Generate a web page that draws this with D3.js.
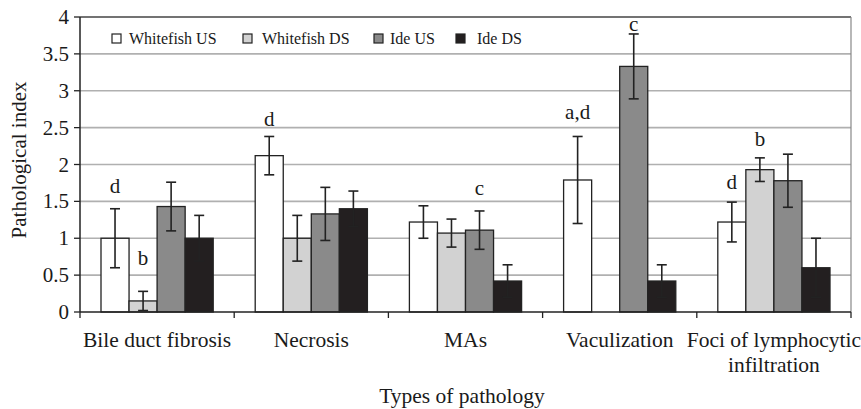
<!DOCTYPE html>
<html><head><meta charset="utf-8">
<script src="https://cdn.jsdelivr.net/npm/d3@7"></script>
<style>body{margin:0;background:#fff}svg{display:block}text{font-family:"Liberation Serif","Times New Roman",serif;fill:#1a1a1a}</style>
</head><body><svg id="c" width="861" height="409"></svg>
<script>
const categories = ["Bile duct fibrosis","Necrosis","MAs","Vaculization","Foci of lymphocytic infiltration"];
const series = ["Whitefish US","Whitefish DS","Ide US","Ide DS"];
const whitefishUS = [1.0, 2.12, 1.22, 1.79, 1.22];
const whitefishDS = [0.15, 1.0, 1.07, 0, 1.93];
const ideUS = [1.43, 1.33, 1.11, 3.33, 1.78];
const ideDS = [1.0, 1.40, 0.42, 0.42, 0.60];
const errWhitefishUS = [0.40, 0.26, 0.22, 0.59, 0.27];
const errWhitefishDS = [0.13, 0.31, 0.19, 0, 0.16];
const errIdeUS = [0.33, 0.36, 0.26, 0.44, 0.36];
const errIdeDS = [0.31, 0.24, 0.22, 0.22, 0.40];
// significance letters: [category index, series index, text, value level of baseline]
const letterCat = [0, 0, 1, 2, 3, 3, 4, 4];
const letterSeries = [0, 1, 0, 2, 0, 2, 0, 1];
const letterText = ["d","b","d","c","a,d","c","d","b"];
const letterLevel = [1.62, 0.64, 2.52, 1.59, 2.62, 3.81, 1.67, 2.25];
const yTicks = [0,0.5,1,1.5,2,2.5,3,3.5,4];
const colors = ["#ffffff","#d2d2d2","#8a8a8a","#231f20"];

const values = [whitefishUS, whitefishDS, ideUS, ideDS];
const errs = [errWhitefishUS, errWhitefishDS, errIdeUS, errIdeDS];

const svg = d3.select("#c");
const L = 80, R = 851, T = 17, B = 312;
const y = d3.scaleLinear().domain([0,4]).range([B,T]);
const x0 = d3.scaleBand().domain(categories).range([L,R]).padding(0);
const x1 = d3.scaleBand().domain(series).range([21, x0.bandwidth()-21]).padding(0);

// gridlines
svg.append("g").selectAll("line").data(yTicks.filter(d=>d>0 && d<4)).join("line")
  .attr("x1",L).attr("x2",R).attr("y1",d=>y(d)).attr("y2",d=>y(d))
  .attr("stroke","#b0b0b0").attr("stroke-width",1.6);
// top & right frame
svg.append("line").attr("x1",L).attr("x2",R).attr("y1",y(4)).attr("y2",y(4)).attr("stroke","#444").attr("stroke-width",1.5);
svg.append("line").attr("x1",R).attr("x2",R).attr("y1",T).attr("y2",B).attr("stroke","#888").attr("stroke-width",1.2);

// bars
const groups = svg.append("g").selectAll("g").data(categories).join("g")
  .attr("transform",c=>`translate(${x0(c)},0)`);
groups.each(function(c,i){
  const g = d3.select(this);
  series.forEach((s,j)=>{
    const v = values[j][i];
    if (v<=0) return;
    g.append("rect").attr("x",x1(s)).attr("width",x1.bandwidth())
      .attr("y",y(v)).attr("height",y(0)-y(v))
      .attr("fill",colors[j]).attr("stroke","#222").attr("stroke-width",1.3);
    const e = errs[j][i];
    if (e>0){
      const cx = x1(s)+x1.bandwidth()/2;
      const eg = g.append("g").attr("stroke","#222").attr("stroke-width",1.6);
      eg.append("line").attr("x1",cx).attr("x2",cx).attr("y1",y(v+e)).attr("y2",y(Math.max(0,v-e)));
      eg.append("line").attr("x1",cx-5).attr("x2",cx+5).attr("y1",y(v+e)).attr("y2",y(v+e));
      if (v-e>0) eg.append("line").attr("x1",cx-5).attr("x2",cx+5).attr("y1",y(v-e)).attr("y2",y(v-e));
    }
  });
});

// letters
letterText.forEach((t,k)=>{
  const c = categories[letterCat[k]], s = series[letterSeries[k]];
  svg.append("text").attr("x",x0(c)+x1(s)+x1.bandwidth()/2).attr("y",y(letterLevel[k]))
    .attr("text-anchor","middle").attr("font-size",21).text(t);
});

// y axis
svg.append("line").attr("x1",L).attr("x2",L).attr("y1",T).attr("y2",B).attr("stroke","#222").attr("stroke-width",1.5);
svg.append("g").selectAll("line").data(yTicks).join("line")
  .attr("x1",L-6).attr("x2",L).attr("y1",d=>y(d)).attr("y2",d=>y(d)).attr("stroke","#222").attr("stroke-width",1.3);
svg.append("g").selectAll("text").data(yTicks).join("text")
  .attr("x",L-11).attr("y",d=>y(d)+7).attr("text-anchor","end").attr("font-size",21).text(d=>d);

// x axis
svg.append("line").attr("x1",L).attr("x2",R).attr("y1",B).attr("y2",B).attr("stroke","#222").attr("stroke-width",1.5);
const bounds = categories.map(c=>x0(c)).concat([R]);
svg.append("g").selectAll("line").data(bounds).join("line")
  .attr("x1",d=>d).attr("x2",d=>d).attr("y1",B).attr("y2",B+6).attr("stroke","#222").attr("stroke-width",1.3);
categories.forEach(c=>{
  const cx = x0(c)+x0.bandwidth()/2;
  if (c==="Foci of lymphocytic infiltration"){
    const t = svg.append("text").attr("x",cx).attr("y",347).attr("text-anchor","middle").attr("font-size",21.5);
    t.append("tspan").attr("x",cx).text("Foci of lymphocytic");
    t.append("tspan").attr("x",cx).attr("dy",25).text("infiltration");
  } else {
    svg.append("text").attr("x",cx).attr("y",347).attr("text-anchor","middle").attr("font-size",21.5).text(c);
  }
});

// axis titles
svg.append("text").attr("x",462).attr("y",403).attr("text-anchor","middle").attr("font-size",21.5).text("Types of pathology");
svg.append("text").attr("transform","translate(26,160) rotate(-90)").attr("text-anchor","middle").attr("font-size",21).text("Pathological index");

// legend
const legX = [112, 243, 374, 456];
const legTextX = [129, 262, 390, 477];
series.forEach((s,j)=>{
  svg.append("rect").attr("x",legX[j]).attr("y",34).attr("width",9).attr("height",9)
    .attr("fill",colors[j]).attr("stroke","#222").attr("stroke-width",1.2);
  svg.append("text").attr("x",legTextX[j]).attr("y",43.5).attr("font-size",16).text(s);
});
</script></body></html>
